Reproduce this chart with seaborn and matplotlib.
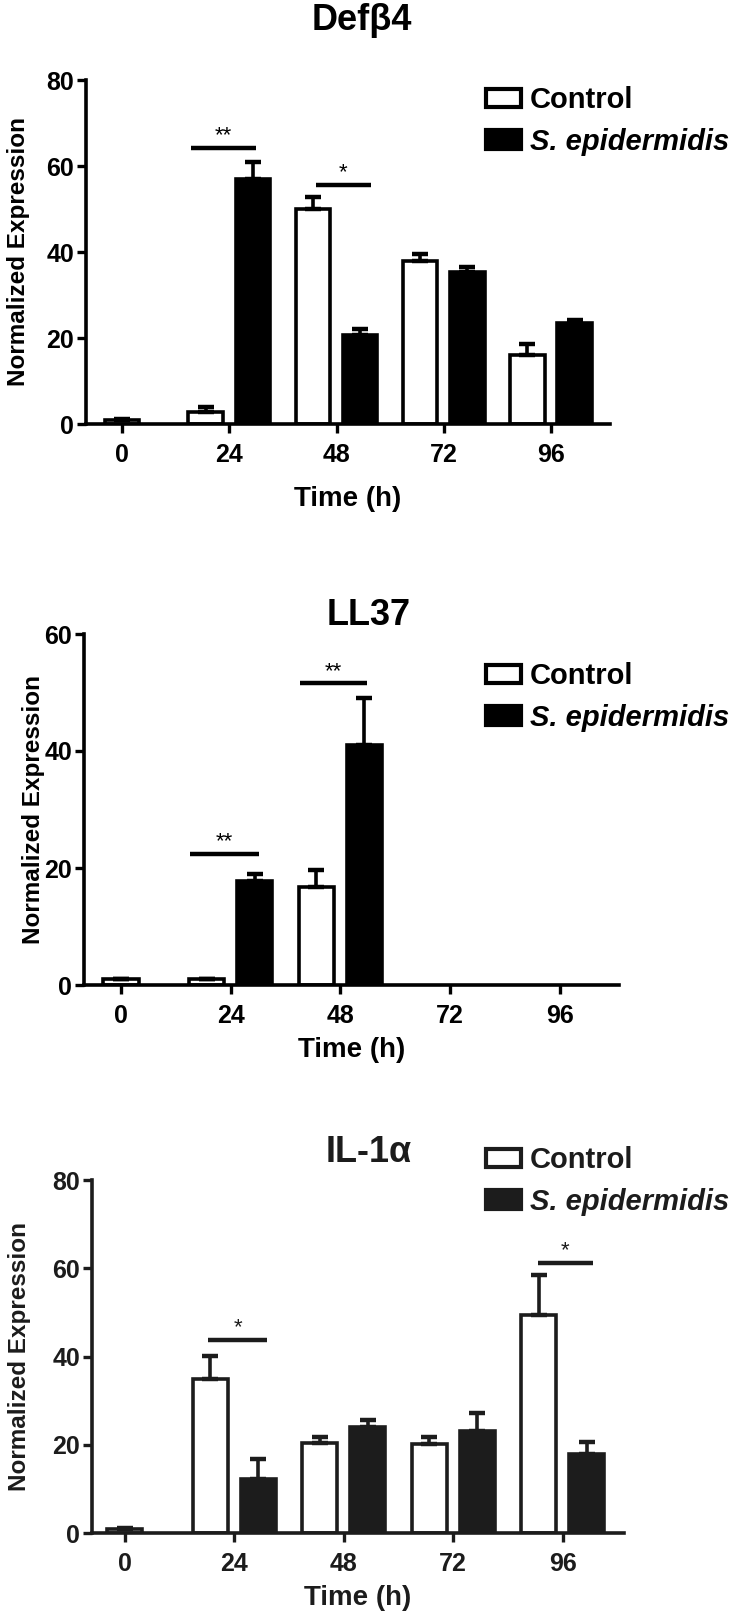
import numpy as np
import pandas as pd
import matplotlib
matplotlib.use('Agg')
import matplotlib.pyplot as plt
from matplotlib.patches import Patch
import seaborn as sns

sns.set_style('ticks')
plt.rcParams['font.family'] = ['Liberation Sans', 'DejaVu Sans']
plt.rcParams['font.weight'] = 'bold'
plt.rcParams['axes.labelweight'] = 'bold'

times = ['0', '24', '48', '72', '96']
groups = ['Control', 'S. epidermidis']

# Defb4 (mean, SEM)
defb4_ctrl = [1.0, 2.9, 50.0, 37.8, 16.1]
defb4_ctrl_err = [0.1, 1.0, 2.7, 1.8, 2.6]
defb4_epi = [np.nan, 57.0, 20.8, 35.3, 23.5]
defb4_epi_err = [np.nan, 4.0, 1.2, 1.2, 0.6]

# LL37
ll37_ctrl = [1.0, 1.0, 16.7, np.nan, np.nan]
ll37_ctrl_err = [0.1, 0.1, 3.0, np.nan, np.nan]
ll37_epi = [np.nan, 17.8, 41.1, np.nan, np.nan]
ll37_epi_err = [np.nan, 1.2, 7.9, np.nan, np.nan]

# IL-1a
il1a_ctrl = [1.0, 35.0, 20.4, 20.1, 49.4]
il1a_ctrl_err = [0.1, 5.1, 1.4, 1.7, 9.0]
il1a_epi = [np.nan, 12.3, 24.0, 23.1, 17.9]
il1a_epi_err = [np.nan, 4.5, 1.7, 4.2, 2.8]

# significance marks: time, label, height, left/right offset from the tick
defb4_sig = [('24', '**', 64.3, -0.36, 0.25), ('48', '*', 55.6, -0.19, 0.32)]
ll37_sig = [('24', '**', 22.4, -0.37, 0.26), ('48', '**', 51.6, -0.37, 0.24)]
il1a_sig = [('24', '*', 43.8, -0.24, 0.30), ('96', '*', 61.2, -0.23, 0.28)]

W, H = 731, 1617
fig = plt.figure(figsize=(W / 100, H / 100), dpi=100)


def panel(box, title, title_xy, ctrl, ctrl_err, epi, epi_err, ymax, sigs,
          col, xlim, leg_y, ylab_x, labelpad):
    x0, y_top, x1, y_zero = box
    ax = fig.add_axes([x0 / W, 1 - y_zero / H, (x1 - x0) / W, (y_zero - y_top) / H])

    df = pd.DataFrame({'Time': times * 2,
                       'Group': [groups[0]] * 5 + [groups[1]] * 5,
                       'Expr': ctrl + epi,
                       'Err': ctrl_err + epi_err})
    main = df[(df.Time != '0') & df.Expr.notna()]
    base = df[(df.Time == '0') & df.Expr.notna()]

    sns.barplot(data=main, x='Time', y='Expr', hue='Group', order=times,
                hue_order=groups, palette={groups[0]: 'white', groups[1]: col},
                width=0.88, gap=0.27, saturation=1, edgecolor=col, linewidth=2.6,
                errorbar=None, legend=False, ax=ax)
    sns.barplot(data=base, x='Time', y='Expr', order=times, color='white',
                width=0.32, saturation=1, edgecolor=col, linewidth=2.6,
                errorbar=None, ax=ax)

    # upper SEM bars on top of each bar
    for bar in ax.patches:
        xc = bar.get_x() + bar.get_width() / 2
        i = int(round(xc))
        g = groups[1] if xc > i + 0.01 else groups[0]
        row = df[(df.Time == times[i]) & (df.Group == g)]
        err = row.Err.values[0]
        ax.errorbar(xc, bar.get_height(), yerr=[[0], [err]], fmt='none',
                    ecolor=col, elinewidth=2.6, capsize=6, capthick=3.2, zorder=3)

    for t, lab, yv, a, b in sigs:
        i = times.index(t)
        ax.plot([i + a, i + b], [yv, yv], color=col, lw=3.2, solid_capstyle='butt')
        ax.text(i + (a + b) / 2, yv + ymax * 0.004, lab, ha='center', va='bottom',
                fontsize=16, fontweight='normal', color=col)

    ax.set_xlim(*xlim)
    ax.set_ylim(0, ymax)
    ax.set_yticks(np.arange(0, ymax + 1, 20))
    sns.despine(ax=ax)
    for s in ['left', 'bottom']:
        ax.spines[s].set_linewidth(2.6)
        ax.spines[s].set_color(col)
    ax.tick_params(axis='both', length=6.5, width=2.4, color=col, labelcolor=col,
                   labelsize=18)
    ax.tick_params(axis='x', pad=7)
    ax.tick_params(axis='y', pad=2)
    ax.set_xlabel('Time (h)', fontsize=20, fontweight='bold', color=col,
                  labelpad=labelpad)
    ax.set_ylabel('Normalized Expression', fontsize=17.5, fontweight='bold',
                  color=col, va='center')
    ax.yaxis.set_label_coords(ylab_x, 0.5)

    fig.text(title_xy[0] / W, 1 - title_xy[1] / H, title, ha='center',
             va='center', fontsize=26, fontweight='bold', color=col)

    handles = [Patch(facecolor='white', edgecolor=col, linewidth=3),
               Patch(facecolor=col, edgecolor=col, linewidth=3)]
    leg = ax.legend(handles, groups, loc='center left',
                    bbox_to_anchor=(486 / W, 1 - leg_y / H),
                    bbox_transform=fig.transFigure, frameon=False,
                    borderpad=0, borderaxespad=0, handlelength=1.2,
                    handleheight=0.6, handletextpad=0.3, labelspacing=0.45,
                    prop={'size': 21, 'weight': 'bold'})
    for txt in leg.get_texts():
        txt.set_color(col)
    leg.get_texts()[1].set_fontstyle('italic')
    return ax


panel((86, 80, 610, 424), 'Def\u03b24', (362, 20), defb4_ctrl, defb4_ctrl_err,
      defb4_epi, defb4_epi_err, 80, defb4_sig, 'black', (-0.336, 4.55), 121,
      -0.128, 14)
panel((84, 634, 619, 985), 'LL37', (369, 615), ll37_ctrl, ll37_ctrl_err,
      ll37_epi, ll37_epi_err, 60, ll37_sig, 'black', (-0.337, 4.54), 697,
      -0.095, 7)
panel((92, 1180, 624, 1533), 'IL-1\u03b1', (369, 1152), il1a_ctrl, il1a_ctrl_err,
      il1a_epi, il1a_epi_err, 80, il1a_sig, '#1c1c1c', (-0.30, 4.56), 1181,
      -0.137, 7)

fig.savefig('out.png', dpi=100)
